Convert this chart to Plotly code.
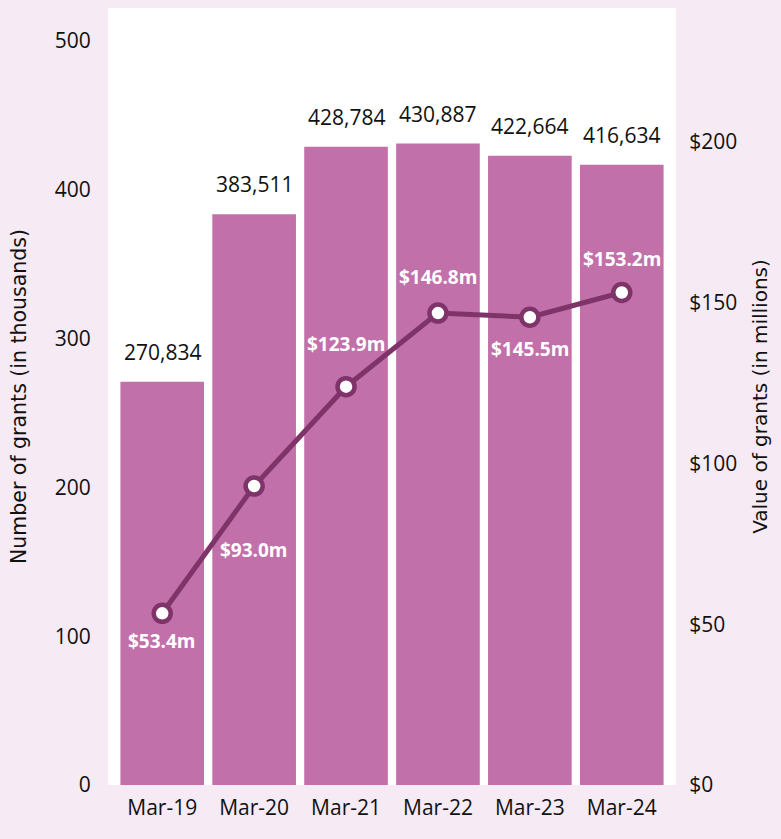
import plotly.graph_objects as go

categories = ["Mar-19", "Mar-20", "Mar-21", "Mar-22", "Mar-23", "Mar-24"]
grants_count = [270834, 383511, 428784, 430887, 422664, 416634]
grants_value_m = [53.4, 93.0, 123.9, 146.8, 145.5, 153.2]
left_ticks = [0, 100, 200, 300, 400, 500]
right_ticks = [0, 50, 100, 150, 200]

# label placement (pixels, positive = up)
value_label_shift = [-28, -64, 43, 36, -32, 34]

BG = "#f6eaf4"
BAR = "#c270a9"
LINE = "#7e3469"
FONT = "Open Sans"
TITLE_FONT = "DejaVu Sans"

fig = go.Figure()
fig.add_trace(go.Bar(
    x=categories,
    y=[c / 1000 for c in grants_count],
    marker=dict(color=BAR, line=dict(width=0)),
    hoverinfo="skip",
    showlegend=False,
))
fig.add_trace(go.Scatter(
    x=categories,
    y=grants_value_m,
    yaxis="y2",
    mode="lines+markers",
    line=dict(color=LINE, width=5),
    marker=dict(size=17, color="white", line=dict(color=LINE, width=4.5)),
    showlegend=False,
))

for cat, c in zip(categories, grants_count):
    fig.add_annotation(
        x=cat, y=c / 1000, xref="x", yref="y",
        text=f"{c:,}", showarrow=False,
        yanchor="bottom", yshift=14,
        font=dict(family=FONT, size=21, color="#111111"),
    )

for cat, v, s in zip(categories, grants_value_m, value_label_shift):
    fig.add_annotation(
        x=cat, y=v, yref="y2", xref="x",
        text=f"<b>${v:.1f}m</b>",
        showarrow=False,
        yshift=s,
        font=dict(family=FONT, size=19, color="white"),
    )

fig.update_layout(
    width=781, height=839,
    paper_bgcolor=BG,
    plot_bgcolor="white",
    margin=dict(l=108, r=105, t=8, b=54),
    bargap=0.09,
    font=dict(family=FONT, size=21, color="#111111"),
    xaxis=dict(
        range=[-0.59, 5.59],
        showgrid=False, zeroline=False, showline=False,
        ticks="outside", ticklen=4, tickcolor="rgba(0,0,0,0)",
        tickfont=dict(size=21),
    ),
    yaxis=dict(
        range=[0, 522],
        tickvals=left_ticks,
        showgrid=False, zeroline=False, showline=False,
        ticks="outside", ticklen=12, tickcolor="rgba(0,0,0,0)",
        automargin=False,
        title=dict(text="Number of grants (in thousands)", standoff=22,
                   font=dict(family=TITLE_FONT, size=20.5)),
    ),
    yaxis2=dict(
        range=[0, 241.7],
        tickvals=right_ticks,
        ticktext=[f"${t}" for t in right_ticks],
        overlaying="y", side="right",
        showgrid=False, zeroline=False, showline=False,
        ticks="outside", ticklen=8, tickcolor="rgba(0,0,0,0)",
        automargin=False,
        title=dict(text="Value of grants (in millions)", standoff=16,
                   font=dict(family=TITLE_FONT, size=20)),
    ),
)

fig.write_html(
    "out.html",
    config={"displayModeBar": False},
    post_script="document.body.style.margin='0';document.body.style.background='" + BG + "';",
)
